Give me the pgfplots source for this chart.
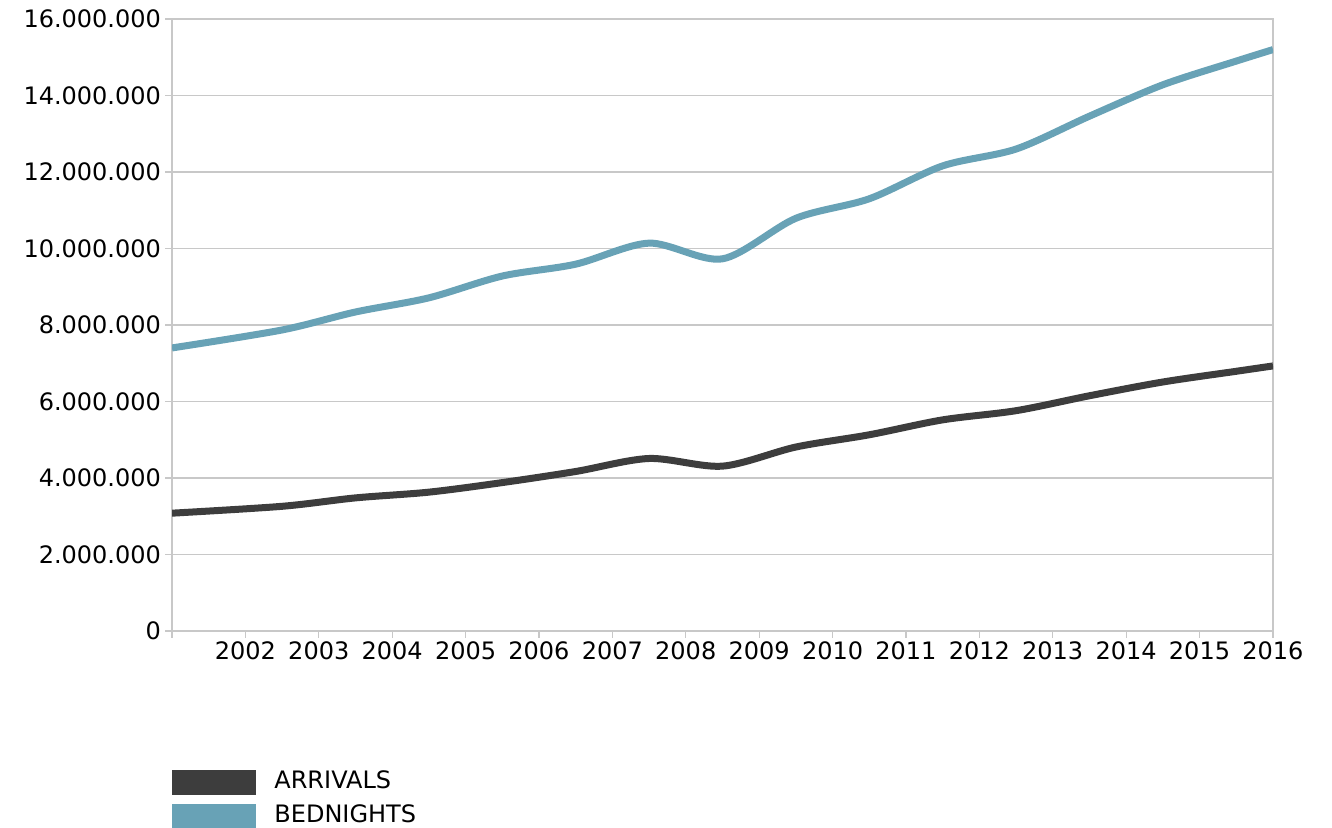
\documentclass[border=0pt]{standalone}
\usepackage{pgfplots}
\pgfplotsset{compat=1.18}
\usepackage{fontspec}
\setmainfont{DejaVu Sans}

\definecolor{arrgray}{HTML}{3D3D3D}
\definecolor{bedblue}{HTML}{68A2B6}
\definecolor{gridgray}{HTML}{C8C8C8}

\begin{document}
\begin{tikzpicture}
    \useasboundingbox (0,0) rectangle (666pt,414pt);
    \begin{axis}[
        at={(86pt,98.5pt)},
        anchor=south west,
        scale only axis,
        width=550.5pt,
        height=306pt,
        xmin=2001, xmax=2016,
        ymin=0, ymax=16000000,
        scaled y ticks=false,
        xtick={2001,...,2016},
        xticklabels={{},2002,2003,2004,2005,2006,2007,2008,2009,2010,2011,2012,2013,2014,2015,2016},
        ytick={0,2000000,4000000,6000000,8000000,10000000,12000000,14000000,16000000},
        yticklabels={0,2.000.000,4.000.000,6.000.000,8.000.000,10.000.000,12.000.000,14.000.000,16.000.000},
        tick label style={font=\fontsize{12}{14}\selectfont, text=black},
        xticklabel style={yshift=1.5pt},
        yticklabel style={xshift=1.5pt},
        tick align=outside,
        tick pos=left,
        major tick length=3.5pt,
        tick style={draw=gridgray, line width=0.6pt},
        axis line style={draw=gridgray, line width=0.6pt},
        ymajorgrids,
        grid style={draw=gridgray, line width=0.6pt},
        legend style={
            at={(0,-0.226)}, anchor=north west,
            draw=none, fill=none, inner sep=0pt,
            font=\fontsize{12}{14}\selectfont,
            nodes={inner sep=0pt, text height=9pt, text depth=3pt},
            row sep=4.5pt, column sep=9pt,
            cells={anchor=west},
        },
        legend image code/.code={
            \fill[#1] (0pt,-4.5pt) rectangle (38.5pt,4.5pt);
        },
        ]

        % arrivals
        \addplot[arrgray, line width=3.5pt, smooth] coordinates {
            (2001.0, 3080000)
            (2002.5, 3260000)
            (2003.5, 3480000)
            (2004.5, 3630000)
            (2005.5, 3880000)
            (2006.5, 4170000)
            (2007.5, 4510000)
            (2008.5, 4310000)
            (2009.5, 4810000)
            (2010.5, 5130000)
            (2011.5, 5520000)
            (2012.5, 5760000)
            (2013.5, 6150000)
            (2014.5, 6510000)
            (2015.5, 6790000)
            (2016.0, 6930000)
        };
        \addlegendentry{ARRIVALS}

        % bednights
        \addplot[bedblue, line width=3.5pt, smooth] coordinates {
            (2001.0, 7400000)
            (2002.5, 7870000)
            (2003.5, 8340000)
            (2004.5, 8710000)
            (2005.5, 9280000)
            (2006.5, 9590000)
            (2007.5, 10140000)
            (2008.5, 9730000)
            (2009.5, 10790000)
            (2010.5, 11300000)
            (2011.5, 12160000)
            (2012.5, 12600000)
            (2013.5, 13460000)
            (2014.5, 14280000)
            (2015.5, 14900000)
            (2016.0, 15200000)
        };
        \addlegendentry{BEDNIGHTS}

    \end{axis}
\end{tikzpicture}
\end{document}
